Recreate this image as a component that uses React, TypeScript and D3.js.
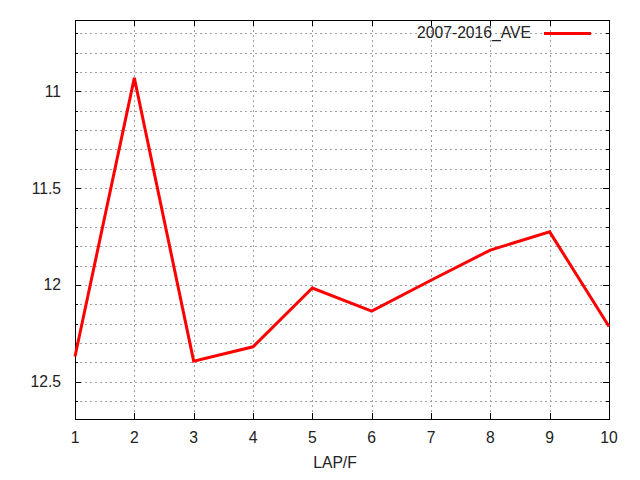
import * as d3 from "d3";

const laps = [1, 2, 3, 4, 5, 6, 7, 8, 9, 10];
const ave = [12.37, 10.93, 12.394, 12.32, 12.016, 12.135, 11.976, 11.82, 11.726, 12.215];
const seriesName = "2007-2016_AVE";
const xTicks = [1, 2, 3, 4, 5, 6, 7, 8, 9, 10];
const yMajor = [11, 11.5, 12, 12.5];
const yMinor = [10.7, 10.8, 10.9, 11, 11.1, 11.2, 11.3, 11.4, 11.5, 11.6, 11.7, 11.8, 11.9, 12, 12.1, 12.2, 12.3, 12.4, 12.5, 12.6];

const W = 640;
const H = 480;
const left = 75;
const right = 609;
const top = 20;
const bottom = 419;
const font = "'Liberation Sans', Arial, sans-serif";

export default function App() {
  const x = d3.scaleLinear().domain([1, 10]).range([left, right]);
  const y = d3.scaleLinear().domain([10.631, 12.693]).range([top, bottom]);

  const line = d3
    .line<number>()
    .x((_, i) => x(laps[i]))
    .y((d) => y(d));

  return (
    <svg
      width={W}
      height={H}
      style={{ position: "absolute", left: 0, top: 0, background: "white" }}
      fontFamily={font}
      fontSize={15.7}
    >
      <rect width={W} height={H} fill="white" />
      {/* grid */}
      {yMinor.map((v) => (
        <line
          key={"gy" + v}
          x1={left}
          x2={right}
          y1={Math.round(y(v)) + 0.5}
          y2={Math.round(y(v)) + 0.5}
          stroke="#a0a0a0"
          strokeDasharray="2,3"
        />
      ))}
      {xTicks.slice(1, -1).map((v) => (
        <line
          key={"gx" + v}
          x1={Math.round(x(v)) + 0.5}
          x2={Math.round(x(v)) + 0.5}
          y1={top}
          y2={bottom}
          stroke="#a0a0a0"
          strokeDasharray="2,3"
        />
      ))}
      {/* ticks */}
      {yMinor.map((v) => {
        const yy = Math.round(y(v)) + 0.5;
        const len = yMajor.includes(v) ? 6 : 3;
        return (
          <g key={"ty" + v} stroke="black">
            <line x1={left} x2={left + len} y1={yy} y2={yy} />
            <line x1={right} x2={right - len} y1={yy} y2={yy} />
          </g>
        );
      })}
      {xTicks.map((v) => {
        const xx = Math.round(x(v)) + 0.5;
        return (
          <g key={"tx" + v} stroke="black">
            <line x1={xx} x2={xx} y1={bottom} y2={bottom - 6} />
            <line x1={xx} x2={xx} y1={top} y2={top + 6} />
          </g>
        );
      })}
      {/* frame */}
      <rect
        x={left + 0.5}
        y={top + 0.5}
        width={right - left}
        height={bottom - top}
        fill="none"
        stroke="black"
      />
      {/* tick labels */}
      {yMajor.map((v) => (
        <text key={"ly" + v} x={61} y={y(v) + 5.5} textAnchor="end" fill="#222">
          {v}
        </text>
      ))}
      {xTicks.map((v) => (
        <text key={"lx" + v} x={x(v)} y={443} textAnchor="middle" fill="#222">
          {v}
        </text>
      ))}
      <text x={335} y={468} textAnchor="middle" fill="#222">
        LAP/F
      </text>
      {/* data */}
      <path d={line(ave) ?? ""} fill="none" stroke="#ff0000" strokeWidth={3} />
      {/* legend */}
      <text x={531} y={37.5} textAnchor="end" fill="#222">
        {seriesName}
      </text>
      <line x1={544} x2={591} y1={33.5} y2={33.5} stroke="#ff0000" strokeWidth={3} />
    </svg>
  );
}
